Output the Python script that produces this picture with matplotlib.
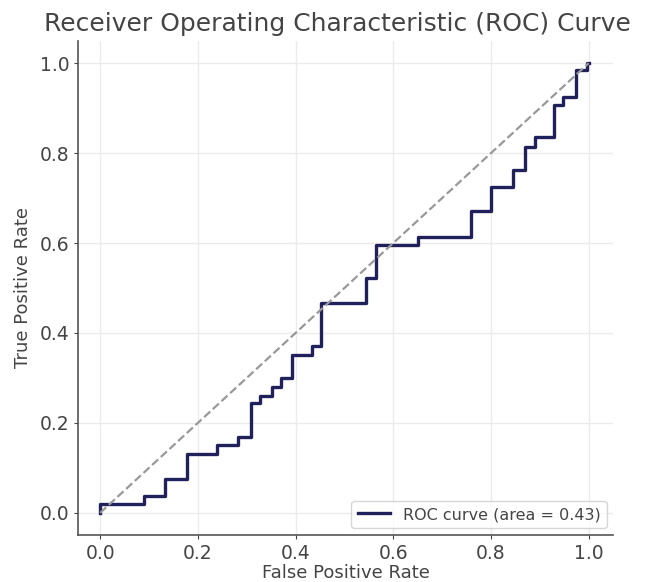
import matplotlib
matplotlib.use("Agg")
import matplotlib.pyplot as plt

fpr = [0.0, 0.0, 0.09, 0.09, 0.133, 0.133, 0.178, 0.178, 0.24, 0.24, 0.283, 0.283,
       0.309, 0.309, 0.327, 0.327, 0.351, 0.351, 0.371, 0.371, 0.392, 0.392,
       0.433, 0.433, 0.453, 0.453, 0.544, 0.544, 0.564, 0.564, 0.65, 0.65,
       0.759, 0.759, 0.80, 0.80, 0.845, 0.845, 0.869, 0.869, 0.89, 0.89,
       0.93, 0.93, 0.947, 0.947, 0.975, 0.975, 0.996, 0.996, 1.0]
tpr = [0.0, 0.02, 0.02, 0.038, 0.038, 0.075, 0.075, 0.131, 0.131, 0.15, 0.15, 0.169,
       0.169, 0.244, 0.244, 0.26, 0.26, 0.28, 0.28, 0.30, 0.30, 0.351,
       0.351, 0.372, 0.372, 0.467, 0.467, 0.522, 0.522, 0.596, 0.596, 0.613,
       0.613, 0.671, 0.671, 0.725, 0.725, 0.762, 0.762, 0.814, 0.814, 0.836,
       0.836, 0.907, 0.907, 0.925, 0.925, 0.984, 0.984, 1.0, 1.0]
roc_auc = 0.43
ticks = [0.0, 0.2, 0.4, 0.6, 0.8, 1.0]

txt = "#444444"
fig = plt.figure(figsize=(6.46, 5.82), dpi=100)
ax = fig.add_axes([0.121, 0.081, 0.828, 0.849])
ax.plot(fpr, tpr, color="#20205a", lw=2.4, label=f"ROC curve (area = {roc_auc:.2f})")
ax.plot([0, 1], [0, 1], color="#999999", lw=1.6, ls="--")
ax.set_xlim(-0.045, 1.05)
ax.set_ylim(-0.049, 1.05)
ax.set_xticks(ticks)
ax.set_yticks(ticks)
ax.grid(True, color="#ebebeb", lw=1)
ax.set_axisbelow(True)
for s in ["top", "right"]:
    ax.spines[s].set_visible(False)
for s in ["left", "bottom"]:
    ax.spines[s].set_color("#555555")
    ax.spines[s].set_linewidth(1.2)
ax.tick_params(colors=txt, labelsize=13.5, length=3)
ax.set_xlabel("False Positive Rate", color=txt, fontsize=13, labelpad=1)
ax.set_ylabel("True Positive Rate", color=txt, fontsize=13, labelpad=5)
fig.text(337 / 646, 1 - 24 / 582, "Receiver Operating Characteristic (ROC) Curve",
         color=txt, fontsize=18, ha="center", va="center")
leg = ax.legend(loc="lower right", fontsize=11.5, frameon=True, borderaxespad=0.4)
for t in leg.get_texts():
    t.set_color(txt)
fig.savefig("out.png", dpi=100)
